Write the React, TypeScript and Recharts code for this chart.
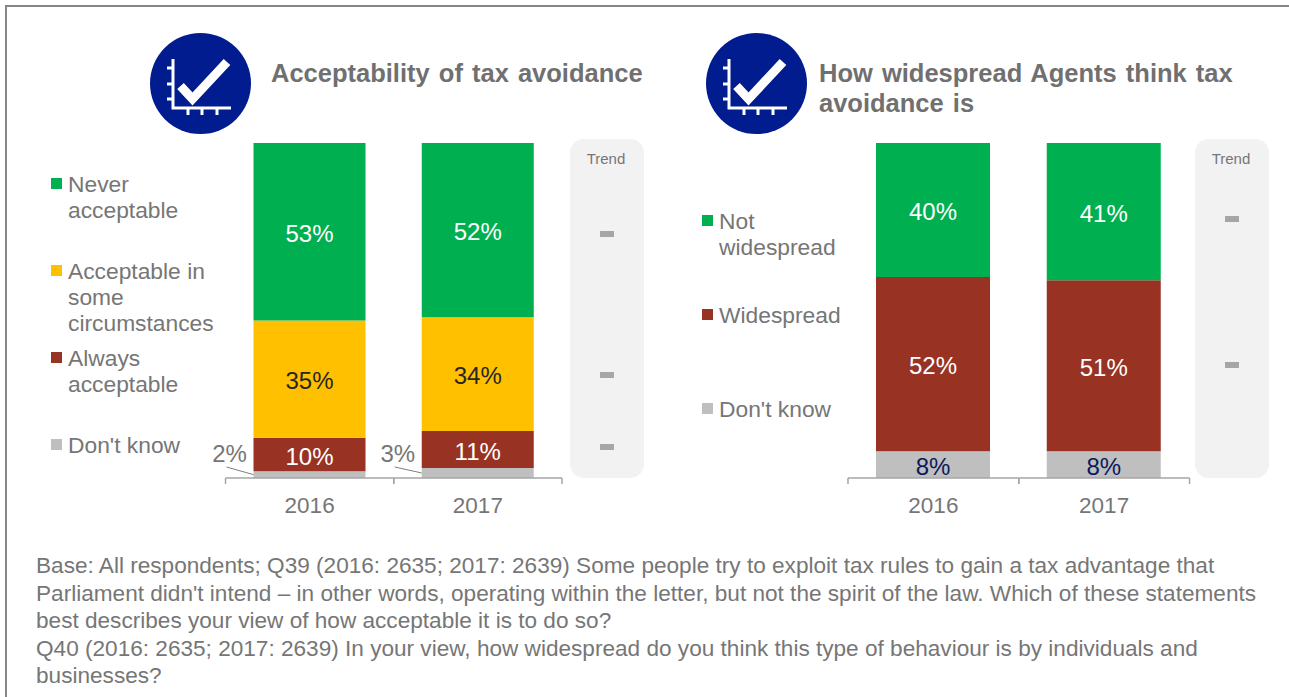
import { BarChart, Bar, XAxis, YAxis, LabelList } from "recharts";

const years = ["2016", "2017"];

// left chart, acceptability of tax avoidance
const neverAcceptable = [53, 52];
const someCircumstances = [35, 34];
const alwaysAcceptable = [10, 11];
const dontKnowLeft = [2, 3];

// right chart, how widespread
const notWidespread = [40, 41];
const widespread = [52, 51];
const dontKnowRight = [8, 8];

const footnote = [
  "Base: All respondents; Q39 (2016: 2635; 2017: 2639) Some people try to exploit tax rules to gain a tax advantage that",
  "Parliament didn't intend – in other words, operating within the letter, but not the spirit of the law. Which of these statements",
  "best describes your view of how acceptable it is to do so?",
  "Q40 (2016: 2635; 2017: 2639) In your view, how widespread do you think this type of behaviour is by individuals and",
  "businesses?",
];

const GREEN = "#00b050";
const YELLOW = "#ffc000";
const RED = "#983324";
const GREY = "#bfbfbf";
const TEXT = "#767676";
const FONT = "'Liberation Sans', Arial, sans-serif";

const leftData = years.map((year, i) => ({
  year,
  never: neverAcceptable[i],
  some: someCircumstances[i],
  always: alwaysAcceptable[i],
  dontKnow: dontKnowLeft[i],
}));

const rightData = years.map((year, i) => ({
  year,
  not: notWidespread[i],
  wide: widespread[i],
  dontKnow: dontKnowRight[i],
}));

const pct = (v: any) => `${v}%`;

// year label plus the tick marks that sit on the category boundaries
function YearTick({ x, y, payload, half }: any) {
  return (
    <g>
      <line x1={x - half} x2={x - half} y1={y} y2={y + 6} stroke="#a6a6a6" strokeWidth={1.5} />
      <line x1={x + half} x2={x + half} y1={y} y2={y + 6} stroke="#a6a6a6" strokeWidth={1.5} />
      <text x={x} y={y + 35} textAnchor="middle" fontSize={22.5} fontFamily={FONT} fill={TEXT}>
        {payload.value}
      </text>
    </g>
  );
}

// small segment: value goes outside the bar with a leader line
function OutsideLabel({ x, y, height, value }: any) {
  const bottom = y + height;
  return (
    <g>
      <line x1={x - 27} y1={bottom - 11} x2={x} y2={y + height / 2} stroke="#7f7f7f" strokeWidth={1} />
      <text x={x - 24} y={bottom - 16} textAnchor="middle" fontSize={24} fontFamily={FONT} fill={TEXT}>
        {pct(value)}
      </text>
    </g>
  );
}

const labelStyle = { fontSize: 24, fontFamily: FONT };

function Icon({ left }: { left: number }) {
  return (
    <svg width={102} height={102} style={{ position: "absolute", left, top: 33 }}>
      <circle cx={50.5} cy={50.5} r={50.5} fill="#001c8e" />
      <g stroke="#fff" fill="none">
        <path d="M23 26V75H81" strokeWidth={3} />
        <path d="M17 35H23M17 51H23M17 66H23M38 75V82M52 75V82M67 75V82" strokeWidth={3} />
        <path d="M30.5 53L42.5 66L77 29" strokeWidth={9} />
      </g>
    </svg>
  );
}

function Title({ left, lines }: { left: number; lines: string[] }) {
  return (
    <div
      style={{
        position: "absolute",
        left,
        top: 59,
        fontFamily: FONT,
        fontSize: 25.5,
        fontWeight: "bold",
        wordSpacing: 2,
        lineHeight: "29.5px",
        color: "#707070",
        whiteSpace: "nowrap",
      }}
    >
      {lines.map((l) => (
        <div key={l}>{l}</div>
      ))}
    </div>
  );
}

function LegendItem({ left, top, color, lines }: { left: number; top: number; color: string; lines: string[] }) {
  return (
    <div style={{ position: "absolute", left, top, fontFamily: FONT, fontSize: 22.8, lineHeight: "26px", color: TEXT, whiteSpace: "nowrap" }}>
      <div style={{ position: "absolute", left: 0, top: 7, width: 11, height: 11, background: color }} />
      <div style={{ marginLeft: 17 }}>
        {lines.map((l) => (
          <div key={l}>{l}</div>
        ))}
      </div>
    </div>
  );
}

function TrendPanel({ left, dashes }: { left: number; dashes: number[] }) {
  return (
    <div style={{ position: "absolute", left, top: 139, width: 74, height: 339, background: "#f2f2f2", borderRadius: 14 }}>
      <div style={{ position: "absolute", top: 11, left: -1, width: "100%", textAlign: "center", fontFamily: FONT, fontSize: 15, color: TEXT }}>Trend</div>
      {dashes.map((d) => (
        <div key={d} style={{ position: "absolute", left: 30, top: d - 139, width: 14, height: 6, background: "#a6a6a6" }} />
      ))}
    </div>
  );
}

export default function App() {
  return (
    <div style={{ position: "fixed", left: 0, top: 0, width: 1289, height: 697, background: "#fff", overflow: "hidden" }}>
      <div style={{ position: "absolute", left: 5, top: 5, width: 1284, height: 2, background: "#868686" }} />
      <div style={{ position: "absolute", left: 5, top: 5, width: 2, height: 692, background: "#868686" }} />

      <Icon left={150} />
      <Icon left={706} />
      <Title left={271} lines={["Acceptability of tax avoidance"]} />
      <Title left={819} lines={["How widespread Agents think tax", "avoidance is"]} />

      <LegendItem left={51} top={171} color={GREEN} lines={["Never", "acceptable"]} />
      <LegendItem left={51} top={258} color={YELLOW} lines={["Acceptable in", "some", "circumstances"]} />
      <LegendItem left={51} top={345} color={RED} lines={["Always", "acceptable"]} />
      <LegendItem left={51} top={432} color={GREY} lines={["Don't know"]} />

      <LegendItem left={702} top={208} color={GREEN} lines={["Not", "widespread"]} />
      <LegendItem left={702} top={302} color={RED} lines={["Widespread"]} />
      <LegendItem left={702} top={396} color={GREY} lines={["Don't know"]} />

      <TrendPanel left={570} dashes={[231, 372, 444]} />
      <TrendPanel left={1195} dashes={[216, 362]} />

      <div style={{ position: "absolute", left: 190, top: 130 }}>
        <BarChart width={380} height={390} data={leftData} barSize={112} margin={{ top: 13, right: 8, bottom: 0, left: 35.5 }}>
          <YAxis hide domain={[0, 100]} />
          <XAxis
            dataKey="year"
            height={42}
            stroke="#a6a6a6"
            strokeWidth={1.5}
            tickLine={false}
            tickSize={0}
            tickMargin={0}
            tick={<YearTick half={84.1} />}
          />
          <Bar dataKey="dontKnow" stackId="a" fill={GREY} isAnimationActive={false}>
            <LabelList dataKey="dontKnow" content={<OutsideLabel />} />
          </Bar>
          <Bar dataKey="always" stackId="a" fill={RED} isAnimationActive={false}>
            <LabelList dataKey="always" position="center" formatter={pct} fill="#fff" dy={1.5} style={labelStyle} />
          </Bar>
          <Bar dataKey="some" stackId="a" fill={YELLOW} isAnimationActive={false}>
            <LabelList dataKey="some" position="center" formatter={pct} fill="#262626" dy={1.5} style={labelStyle} />
          </Bar>
          <Bar dataKey="never" stackId="a" fill={GREEN} isAnimationActive={false}>
            <LabelList dataKey="never" position="center" formatter={pct} fill="#fff" dy={1.5} style={labelStyle} />
          </Bar>
        </BarChart>
      </div>

      <div style={{ position: "absolute", left: 840, top: 130 }}>
        <BarChart width={360} height={390} data={rightData} barSize={114} margin={{ top: 13, right: 10.5, bottom: 0, left: 8 }}>
          <YAxis hide domain={[0, 100]} />
          <XAxis
            dataKey="year"
            height={42}
            stroke="#a6a6a6"
            strokeWidth={1.5}
            tickLine={false}
            tickSize={0}
            tickMargin={0}
            tick={<YearTick half={85.4} />}
          />
          <Bar dataKey="dontKnow" stackId="a" fill={GREY} isAnimationActive={false}>
            <LabelList dataKey="dontKnow" position="center" formatter={pct} fill="#0a1a5c" dy={1.5} style={labelStyle} />
          </Bar>
          <Bar dataKey="wide" stackId="a" fill={RED} isAnimationActive={false}>
            <LabelList dataKey="wide" position="center" formatter={pct} fill="#fff" dy={1.5} style={labelStyle} />
          </Bar>
          <Bar dataKey="not" stackId="a" fill={GREEN} isAnimationActive={false}>
            <LabelList dataKey="not" position="center" formatter={pct} fill="#fff" dy={1.5} style={labelStyle} />
          </Bar>
        </BarChart>
      </div>

      <div style={{ position: "absolute", left: 36, top: 552, fontFamily: FONT, fontSize: 22.6, lineHeight: "27.5px", color: TEXT, whiteSpace: "nowrap" }}>
        {footnote.map((l) => (
          <div key={l}>{l}</div>
        ))}
      </div>
    </div>
  );
}
